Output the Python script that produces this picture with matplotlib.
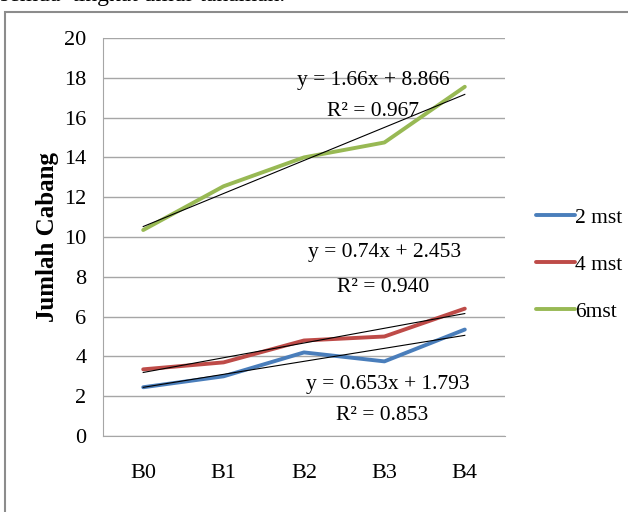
import numpy as np
import matplotlib.pyplot as plt
from matplotlib.patches import Rectangle

labels = ['B0', 'B1', 'B2', 'B3', 'B4']
series_names = ['2 mst', '4 mst', '6mst']
mst2 = [2.45, 3.0, 4.2, 3.75, 5.35]
mst4 = [3.35, 3.7, 4.8, 5.0, 6.4]
mst6 = [10.35, 12.55, 14.0, 14.75, 17.55]
slopes = [0.653, 0.74, 1.66]
intercepts = [1.793, 2.453, 8.866]
r2 = ['0.853', '0.940', '0.967']
colors = ['#4A7EBB', '#BE4B48', '#98B954']

plt.rcParams['font.family'] = ['Liberation Serif', 'DejaVu Serif']

fig = plt.figure(figsize=(6.28, 5.12), dpi=100)
W, H = 628, 512

# outer frame of the chart object
fig.patches.append(Rectangle((5 / W, -0.05), 1.0, 1 - 12 / H + 0.05,
                             transform=fig.transFigure, fill=False,
                             edgecolor='#8c8c8c', lw=1.5))
# running text line above the chart, cut at the top
fig.text(0.0, 1 - 1.5 / H, 'semua  tingkat umur tanaman.', fontsize=17,
         va='baseline', ha='left')

ax = fig.add_axes([103 / W, 1 - 436 / H, 402 / W, 398 / H])
x = np.arange(1, 6)
for vals, c, name in zip([mst2, mst4, mst6], colors, series_names):
    ax.plot(x, vals, color=c, lw=2.8, label=name, solid_capstyle='round', zorder=3)

# linear trendlines
for m, b in zip(slopes, intercepts):
    ax.plot(x, m * x + b, color='black', lw=0.8, zorder=4)

ax.set_xlim(0.5, 5.5)
ax.set_ylim(0, 20)
ax.set_yticks(range(0, 21, 2))
ax.set_xticks(x)
ax.set_xticklabels(labels)
ax.tick_params(length=0, labelsize=16)
ax.tick_params(axis='x', pad=20)
ax.tick_params(axis='y', pad=12)
ax.grid(axis='y', color='#a6a6a6', lw=1)
ax.set_axisbelow(True)
for s in ['top', 'right']:
    ax.spines[s].set_visible(False)
for s in ['left', 'bottom']:
    ax.spines[s].set_color('#a6a6a6')

ax.set_ylabel('Jumlah Cabang', fontsize=18, fontweight='bold', labelpad=4)

eq_pos = [((388, 385), (382, 416)), ((385, 253), (383, 287)), ((373, 80), (373, 112))]
for (p1, p2), m, b, r in zip(eq_pos, slopes, intercepts, r2):
    fig.text(p1[0] / W, 1 - p1[1] / H, f'y = {m:g}x + {b:.3f}', fontsize=15.5,
             ha='center', va='center')
    fig.text(p2[0] / W, 1 - p2[1] / H, f'R\u00b2 = {r}', fontsize=15.5,
             ha='center', va='center')

leg = ax.legend(loc='center left', bbox_to_anchor=(1.03, 0.43), frameon=False,
                fontsize=15.5, handlelength=1.8, handletextpad=0.0,
                labelspacing=1.25)

fig.savefig('out.png', dpi=100)
